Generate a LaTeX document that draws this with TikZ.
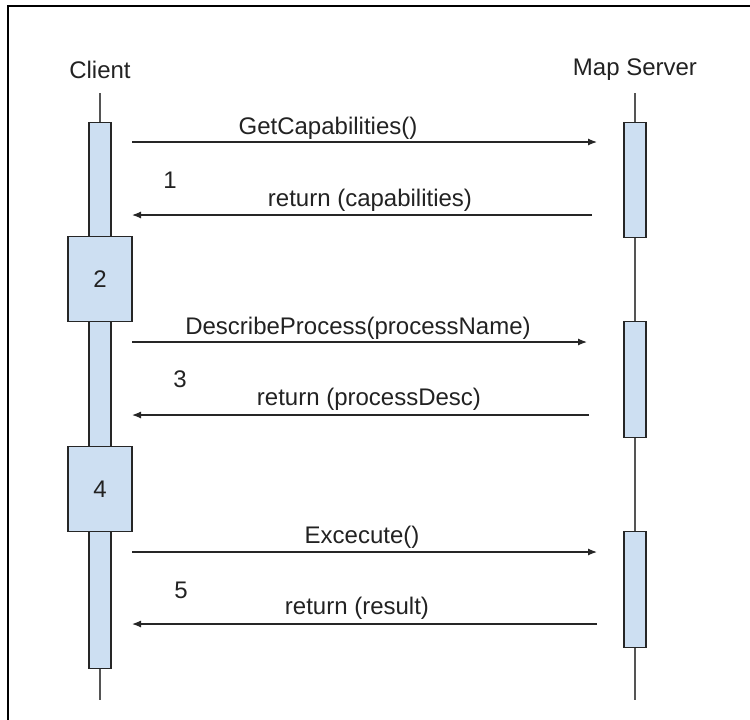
\documentclass[tikz,border=0pt]{standalone}
\usepackage{fontspec}
\setmainfont{Liberation Sans}
\usetikzlibrary{arrows.meta}
\definecolor{barblue}{HTML}{CDDFF2}
\definecolor{linegray}{HTML}{555555}
\definecolor{textgray}{HTML}{222222}
\tikzset{
  actbar/.style={draw=black!85, fill=barblue, line width=1.2pt, inner sep=0pt,
    minimum width=22pt, anchor=north},
  stepbox/.style={draw=black!85, fill=barblue, line width=1.2pt, inner sep=0pt,
    minimum width=64pt, minimum height=85pt, text=textgray},
  msg/.style={line width=1.2pt, draw=black!85, -{Latex[length=9pt,width=7pt]}},
  lbl/.style={text=textgray, inner sep=0pt},
}
\begin{document}
\begin{tikzpicture}[x=1pt, y=-1pt, font=\fontsize{24}{28}\selectfont]
      \useasboundingbox (0,0) rectangle (750,720);
      \draw[line width=2.4pt] (8,720) -- (8,6) -- (750,6);

      % lifelines
      \node[lbl] (client) at (100,70) {Client};
      \node[lbl] (server) at (635,70) {Map Server};
      \draw[linegray, line width=1.2pt] (100,93) -- (100,700);
      \draw[linegray, line width=1.2pt] (635,93) -- (635,700);

      % activation bars
      \node[actbar, minimum height=546pt] (cbar) at (100,122) {};
      \node[actbar, minimum height=115pt] (sbar1) at (635,122) {};
      \node[actbar, minimum height=116pt] (sbar2) at (635,321) {};
      \node[actbar, minimum height=116pt] (sbar3) at (635,531) {};

      \node[stepbox] (step2) at (100,279) {2};
      \node[stepbox] (step4) at (100,489) {4};

      % messages
      \coordinate (c1) at (132,142);  \coordinate (s1) at (597,142);
      \coordinate (c2) at (132,215);  \coordinate (s2) at (592,215);
      \coordinate (c3) at (132,342);  \coordinate (s3) at (587,342);
      \coordinate (c4) at (132,415);  \coordinate (s4) at (589,415);
      \coordinate (c5) at (132,552);  \coordinate (s5) at (597,552);
      \coordinate (c6) at (132,624);  \coordinate (s6) at (597,624);

      \draw[msg] (c1) -- (s1);
      \draw[msg] (s2) -- (c2);
      \draw[msg] (c3) -- (s3);
      \draw[msg] (s4) -- (c4);
      \draw[msg] (c5) -- (s5);
      \draw[msg] (s6) -- (c6);

      \node[lbl] (get) at (328,128) {GetCapabilities()};
      \node[lbl] (getret) at (370,200) {return (capabilities)};
      \node[lbl] (desc) at (358,328) {DescribeProcess(processName)};
      \node[lbl] (descret) at (369,399) {return (processDesc)};
      \node[lbl] (exec) at (362,537) {Excecute()};
      \node[lbl] (execret) at (357,608) {return (result)};

      \node[lbl] (n1) at (170,180) {1};
      \node[lbl] (n3) at (180,379) {3};
      \node[lbl] (n5) at (181,590) {5};
    \end{tikzpicture}
\end{document}
